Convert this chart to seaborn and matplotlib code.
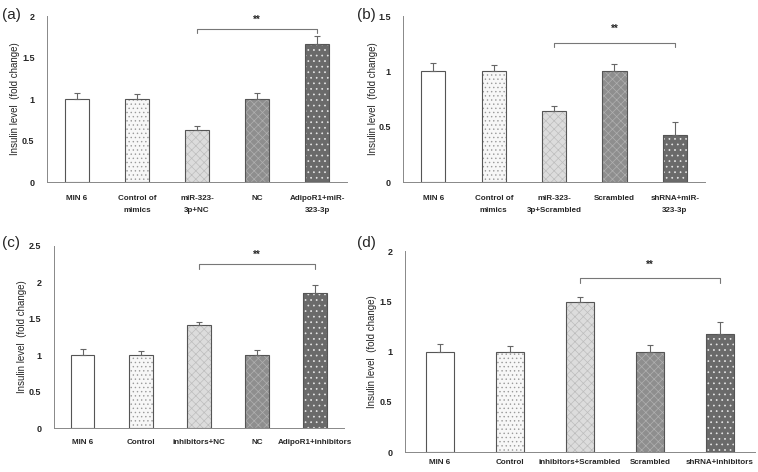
import numpy as np
import pandas as pd
import matplotlib
matplotlib.use('Agg')
import matplotlib.pyplot as plt
from matplotlib.patches import Rectangle
import seaborn as sns

# panel data
labels_a = ['MIN 6', 'Control of\nmimics', 'miR-323-\n3p+NC', 'NC', 'AdipoR1+miR-\n323-3p']
vals_a = [1.0, 1.0, 0.63, 1.0, 1.66]
err_a = [0.07, 0.06, 0.05, 0.07, 0.10]

labels_b = ['MIN 6', 'Control of\nmimics', 'miR-323-\n3p+Scrambled', 'Scrambled', 'shRNA+miR-\n323-3p']
vals_b = [1.0, 1.0, 0.64, 1.0, 0.43]
err_b = [0.08, 0.06, 0.05, 0.07, 0.11]

labels_c = ['MIN 6', 'Control', 'inhibitors+NC', 'NC', 'AdipoR1+inhibitors']
vals_c = [1.0, 1.0, 1.42, 1.0, 1.86]
err_c = [0.08, 0.06, 0.04, 0.07, 0.11]

labels_d = ['MIN 6', 'Control', 'inhibitors+Scrambled', 'Scrambled', 'shRNA+inhibitors']
vals_d = [1.0, 1.0, 1.49, 1.0, 1.18]
err_d = [0.08, 0.06, 0.05, 0.07, 0.11]

# y-axis limits and significance bracket height per panel
ymax = {'a': 2.0, 'b': 1.5, 'c': 2.5, 'd': 2.0}
bracket_y = {'a': 1.85, 'b': 1.26, 'c': 2.25, 'd': 1.73}
star_y = {'a': 1.95, 'b': 1.38, 'c': 2.38, 'd': 1.86}

bar_fill = ['#ffffff', '#f7f7f7', '#dcdcdc', '#8e8e8e', '#6a6a6a']
bar_hatch = [None, '....', 'xxxx', 'xxxx', '...']
hatch_col = [None, '#9a9a9a', '#bdbdbd', '#b0b0b0', '#e8e8e8']

sns.set_style('white')
plt.rcParams['font.family'] = ['Liberation Sans', 'DejaVu Sans']
plt.rcParams['hatch.linewidth'] = 0.5

fig = plt.figure(figsize=(7.58, 4.72), dpi=100)
axes_pos = {
    'a': [0.062, 0.614, 0.396, 0.352],
    'b': [0.532, 0.614, 0.398, 0.352],
    'c': [0.071, 0.093, 0.383, 0.386],
    'd': [0.534, 0.042, 0.462, 0.426],
}
label_pad = {'a': 9, 'b': 9, 'c': 8, 'd': 5}
ylab_x = {'a': 15, 'b': 373, 'c': 22, 'd': 372}
tag_pos = {'a': (2, 15), 'b': (357, 15), 'c': (2, 243), 'd': (357, 243)}

panels = {
    'a': (labels_a, vals_a, err_a),
    'b': (labels_b, vals_b, err_b),
    'c': (labels_c, vals_c, err_c),
    'd': (labels_d, vals_d, err_d),
}

for key, (labels, vals, errs) in panels.items():
    ax = fig.add_axes(axes_pos[key])
    df = pd.DataFrame({'group': labels, 'level': vals})
    sns.barplot(data=df, x='group', y='level', hue='group', palette=bar_fill,
                legend=False, width=0.4, ax=ax, errorbar=None,
                edgecolor='#555555', linewidth=0.8)
    for i, p in enumerate(ax.patches):
        if bar_hatch[i]:
            p.set_hatch(bar_hatch[i])
            p.set_edgecolor(hatch_col[i])
            p.set_linewidth(0)
            ax.add_patch(Rectangle(p.get_xy(), p.get_width(), p.get_height(),
                                   fill=False, edgecolor='#555555', lw=0.8, zorder=3))
    x = np.arange(len(vals))
    ax.errorbar(x, vals, yerr=[np.zeros(len(errs)), errs], fmt='none',
                ecolor='#666666', elinewidth=0.8, capsize=2.5, capthick=0.8, zorder=4)

    # significance bracket between bar 3 and bar 5
    by = bracket_y[key]
    hook = ymax[key] * 0.025
    ax.plot([2, 2, 4, 4], [by - hook, by, by, by - hook], color='#777777', lw=0.8)
    ax.text(3, star_y[key], '**', ha='center', va='center', fontsize=7, fontweight='bold')

    yt = np.arange(0, ymax[key] + 0.01, 0.5)
    ax.set_xlim(-0.5, 4.5)
    ax.set_ylim(0, ymax[key])
    ax.set_yticks(yt)
    ax.set_yticklabels(['%g' % t for t in yt], fontsize=6.5, fontweight='bold')
    ax.set_xticks(x)
    ax.set_xticklabels(labels, fontsize=5.8, fontweight='bold', linespacing=2.1)
    ax.set_xticks(np.arange(-0.5, 5, 1), minor=True)
    ax.tick_params(axis='x', which='major', length=0, pad=label_pad[key])
    ax.tick_params(axis='x', which='minor', length=3, color='#888888', width=0.6)
    ax.tick_params(axis='y', length=3, color='#888888', width=0.6, pad=6)
    ax.set_xlabel('')
    ax.set_ylabel('')
    sns.despine(ax=ax)
    for s in ['left', 'bottom']:
        ax.spines[s].set_color('#888888')
        ax.spines[s].set_linewidth(0.7)

    # y label and panel tag, placed in figure pixels
    pos = axes_pos[key]
    fig.text(ylab_x[key] / 758, pos[1] + pos[3] / 2, 'Insulin level  (fold change)',
             rotation=90, ha='center', va='center', fontsize=7)
    tx, ty = tag_pos[key]
    fig.text(tx / 758, 1 - ty / 472, '(%s)' % key, ha='left', va='center', fontsize=11)

fig.savefig('out.png', dpi=100)
